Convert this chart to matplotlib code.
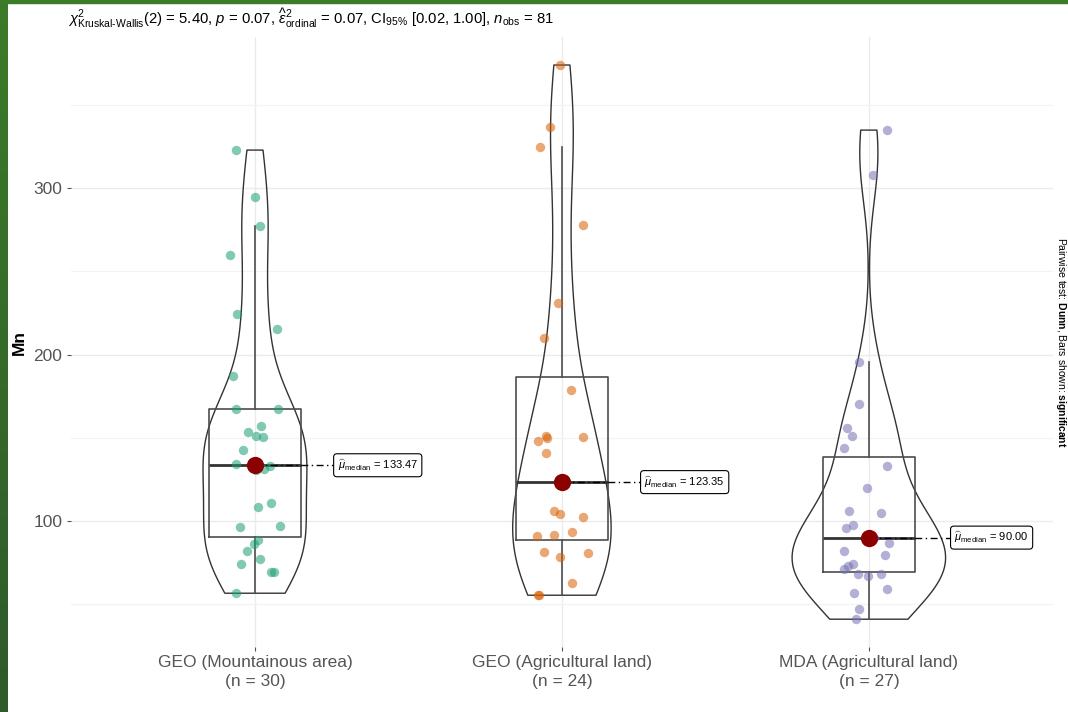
import numpy as np
import matplotlib
matplotlib.use("Agg")
import matplotlib.pyplot as plt
from matplotlib.patches import Rectangle
from matplotlib.colors import LinearSegmentedColormap

plt.rcParams["font.family"] = ["Liberation Sans", "DejaVu Sans"]
plt.rcParams["mathtext.fontset"] = "custom"
plt.rcParams["mathtext.rm"] = "Liberation Sans"
plt.rcParams["mathtext.it"] = "Liberation Sans:italic"
plt.rcParams["mathtext.bf"] = "Liberation Sans:bold"

# ---- data: Mn concentration per sampling group ----
group_names = ["GEO (Mountainous area)", "GEO (Agricultural land)", "MDA (Agricultural land)"]

mn_geo_mountain = [322.8, 294.8, 277.0, 259.8, 224.5, 215.3, 187.3, 167.3, 167.3, 157.2,
                   153.6, 151.1, 150.5, 142.5, 134.2, 132.74, 131.2, 130.6, 110.8, 108.4,
                   97.0, 96.2, 88.4, 86.2, 82.2, 77.0, 74.4, 69.2, 69.2, 56.6]
mn_geo_agri = [373.9, 336.6, 324.7, 277.5, 230.8, 210.2, 178.9, 150.8, 150.3, 149.7,
               148.0, 140.8, 105.9, 104.2, 102.6, 93.6, 91.6, 91.2, 81.6, 81.0,
               78.6, 62.6, 55.4, 55.4]
mn_mda_agri = [334.8, 307.6, 195.7, 170.1, 156.1, 150.9, 143.7, 132.9, 120.0, 106.0,
               104.8, 97.8, 96.0, 90.0, 87.0, 81.8, 79.8, 74.0, 73.0, 71.0,
               68.0, 68.0, 67.0, 59.0, 56.9, 47.0, 41.0]

groups = [mn_geo_mountain, mn_geo_agri, mn_mda_agri]
point_colors = ["#1B9E77", "#D95F02", "#7570B3"]

subtitle = (r"$\chi^2_{\text{Kruskal-Wallis}}(2)$ = 5.40, $p$ = 0.07, "
            r"$\widehat{\varepsilon}^2_{\mathrm{ordinal}}$ = 0.07, "
            r"CI$_{95\%}$ [0.02, 1.00], $n_{\mathrm{obs}}$ = 81")
caption = r"Pairwise test: $\mathbf{Dunn}$, Bars shown: $\mathbf{significant}$"

# ---- figure ----
W, H = 1068, 712
fig = plt.figure(figsize=(W / 100, H / 100), dpi=100)
fig.patch.set_facecolor("white")

all_vals = np.concatenate([np.asarray(g, float) for g in groups])
lo, hi = all_vals.min(), all_vals.max()
pad = 0.05 * (hi - lo)
ylim = (lo - pad, hi + pad)

ax = fig.add_axes([70.8 / W, 65.1 / H, (1053 - 70.8) / W, 609.6 / H])
ax.set_xlim(0.4, 3.6)
ax.set_ylim(*ylim)
for s in ax.spines.values():
    s.set_visible(False)

ax.set_yticks([100, 200, 300])
ax.set_yticks([50, 150, 250, 350], minor=True)
ax.set_xticks([1, 2, 3])
ax.grid(which="major", color="#EBEBEB", lw=1.0, zorder=0)
ax.grid(which="minor", axis="y", color="#F3F3F3", lw=0.9, zorder=0)
ax.set_axisbelow(True)
ax.tick_params(axis="both", which="major", length=3, color="#555555", width=0.8,
               labelcolor="#555555", labelsize=12.5, pad=3)
ax.tick_params(axis="y", which="minor", length=0)
ax.set_xticklabels([f"{n}\n(n = {len(g)})" for n, g in zip(group_names, groups)])
for t in ax.get_xticklabels():
    t.set_linespacing(1.3)
ax.set_ylabel("Mn", fontsize=12.5, fontweight="bold", labelpad=5)

# ---- violins (gaussian KDE, nrd0 bandwidth, trimmed to data range) ----
def kde_curve(vals, npts=512):
    v = np.asarray(vals, float)
    n = v.size
    q75, q25 = np.percentile(v, [75, 25])
    bw = 0.9 * min(v.std(ddof=1), (q75 - q25) / 1.34) * n ** -0.2
    grid = np.linspace(v.min(), v.max(), npts)
    dens = np.exp(-0.5 * ((grid[:, None] - v[None, :]) / bw) ** 2).sum(1)
    dens /= n * bw * np.sqrt(2 * np.pi)
    return grid, dens

curves = [kde_curve(g) for g in groups]
dmax = max(d.max() for _, d in curves)
violin_half = 0.25
for i, (grid, dens) in enumerate(curves):
    pos = i + 1
    hw = violin_half * dens / dmax
    ax.fill_betweenx(grid, pos - hw, pos + hw, facecolor="none",
                     edgecolor="#333333", lw=1.0, zorder=2)

# ---- boxplots ----
ax.boxplot(groups, positions=[1, 2, 3], widths=0.3, whis=1.5, showfliers=False,
           showcaps=False, manage_ticks=False,
           boxprops=dict(color="#4D4D4D", lw=1.2),
           whiskerprops=dict(color="#4D4D4D", lw=1.2),
           medianprops=dict(color="#333333", lw=2.0), zorder=3)

# ---- jittered raw observations ----
rng = np.random.default_rng(11)
for i, g in enumerate(groups):
    pos = i + 1
    jit = rng.uniform(-0.085, 0.085, len(g))
    ax.scatter(pos + jit, g, s=46, color=point_colors[i], alpha=0.55,
               linewidths=0, zorder=4)

# ---- medians with labels ----
for i, g in enumerate(groups):
    pos = i + 1
    med = float(np.median(g))
    ax.scatter([pos], [med], s=155, color="#8B0000", linewidths=0, zorder=6)
    ax.plot([pos, pos + 0.4], [med, med], color="black", lw=1.0,
            linestyle=(0, (5, 2.5, 1, 2.5)), zorder=5)
    ax.text(pos + 0.4, med, r"$\widehat{\mu}_{\mathrm{median}}$" + f" = {med:.2f}",
            ha="center", va="center", fontsize=8, color="black", zorder=7,
            bbox=dict(boxstyle="round,pad=0.35,rounding_size=0.3", fc="white",
                      ec="black", lw=0.8))

# ---- annotations ----
fig.text(68 / W, 1 - 18 / H, subtitle, ha="left", va="center", fontsize=10.7)
fig.text(1061 / W, 1 - 342 / H, caption, ha="center", va="center",
         rotation=270, fontsize=7.5)

# ---- green frame edge ----
gcmap = LinearSegmentedColormap.from_list("edge", ["#3C7B28", "#2F5A2B"])
gax = fig.add_axes([0, 0, 8 / W, 1])
gax.imshow(np.linspace(0, 1, 256)[:, None], cmap=gcmap, aspect="auto")
gax.axis("off")
fig.patches.append(Rectangle((0, 1 - 2.5 / H), 1, 2.5 / H, transform=fig.transFigure,
                             color="#3C7B28", zorder=10))

fig.savefig("out.png", dpi=100)
